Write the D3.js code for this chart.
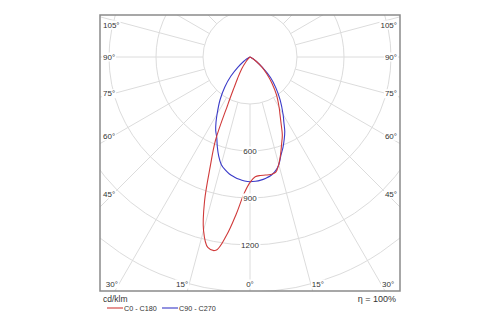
<!DOCTYPE html>
<html><head><meta charset="utf-8">
<script src="https://cdn.jsdelivr.net/npm/d3@7"></script>
<style>body{margin:0;background:#fff}svg{display:block}</style>
</head><body>
<svg id="chart" width="500" height="325"></svg>
<script>
// ---- data ----
const gammaAngles = [0, 2.5, 5, 7.5, 10, 12.5, 15, 17.5, 20, 22.5, 25, 27.5, 30, 35, 40, 45, 50, 55, 60, 65, 70, 75, 80, 85, 90];
const c0Values   = [800, 765, 759, 760, 761, 755, 709, 650, 590, 539, 470, 415, 372, 295, 218, 151, 98, 50, 25, 10, 4, 0, 0, 0, 0];
const c180Values = [800, 873, 1006, 1148, 1253, 1245, 1146, 965, 740, 575, 335, 220, 160, 93, 40, 15, 5, 0, 0, 0, 0, 0, 0, 0, 0];
const c90Values  = [796, 794, 789, 780, 768, 746, 711, 657, 615, 570, 525, 468, 422, 336, 257, 185, 105, 50, 25, 10, 4, 0, 0, 0, 0];
const c270Values = [796, 792, 784, 772, 758, 737, 710, 664, 610, 555, 518, 470, 420, 333, 250, 172, 100, 50, 25, 10, 4, 0, 0, 0, 0];
const ringTicks = [300, 600, 900, 1200, 1500, 1800];
const ringLabels = [600, 900, 1200];
const sideAngleLabels = [105, 90, 75, 60, 45];
const bottomAngleLabels = [30, 15, 0];
const seriesNames = ["C0 - C180", "C90 - C270"];
const unitLabel = "cd/klm";
const effLabel = "\u03b7 = 100%";

// ---- layout ----
const svg = d3.select("#chart");
const frame = {x: 100, y: 15, w: 300, h: 276};
const cx = 250, cy = 57;
const r = d3.scaleLinear().domain([0, 1500]).range([0, 235]);
const redCol = "#d03a3a", blueCol = "#3a3ac8", gridCol = "#dcdcdc", textCol = "#333";
const font = "Liberation Sans, Arial, sans-serif";

svg.append("defs").append("clipPath").attr("id", "clip")
  .append("rect").attr("x", frame.x).attr("y", frame.y).attr("width", frame.w).attr("height", frame.h);

const g = svg.append("g").attr("clip-path", "url(#clip)");
const center = g.append("g").attr("transform", `translate(${cx},${cy})`);

// rings
center.selectAll("circle.ring").data(ringTicks).join("circle")
  .attr("r", d => r(d)).attr("fill", "none").attr("stroke", gridCol).attr("stroke-width", 1);

// radial lines every 15 deg
const spokes = d3.range(0, 360, 15);
center.selectAll("line.spoke").data(spokes).join("line")
  .attr("x1", d => r(300) * Math.sin(d * Math.PI / 180))
  .attr("y1", d => r(300) * Math.cos(d * Math.PI / 180))
  .attr("x2", d => r(2200) * Math.sin(d * Math.PI / 180))
  .attr("y2", d => r(2200) * Math.cos(d * Math.PI / 180))
  .attr("stroke", gridCol).attr("stroke-width", 1);

// label helper with white background
function label(parent, x, y, text, anchor, size) {
  const t = parent.append("text").attr("x", x).attr("y", y).attr("text-anchor", anchor)
    .attr("dominant-baseline", "central").attr("font-family", font).attr("font-size", size)
    .attr("fill", textCol).text(text);
  const b = t.node().getBBox();
  parent.insert("rect", () => t.node()).attr("x", b.x - 1).attr("y", b.y).attr("width", b.width + 2)
    .attr("height", b.height).attr("fill", "#fff");
  return t;
}

const labelsG = svg.append("g");
// ring labels
ringLabels.forEach(v => label(labelsG, cx, cy + r(v), String(v), "middle", 8));

// side angle labels
sideAngleLabels.forEach(a => {
  const rad = a * Math.PI / 180;
  let y = cy + (cx - 113) / Math.tan(rad);
  y = Math.max(y, 25);
  label(labelsG, 103, y, a + "\u00b0", "start", 8);
  label(labelsG, 397, y, a + "\u00b0", "end", 8);
});
// bottom angle labels
bottomAngleLabels.forEach(a => {
  const rad = a * Math.PI / 180;
  const dx = (284 - cy) * Math.tan(rad);
  if (a === 0) { label(labelsG, cx, 284, "0\u00b0", "middle", 8); return; }
  label(labelsG, cx - dx - 1, 284, a + "\u00b0", "end", 8);
  label(labelsG, cx + dx + 1, 284, a + "\u00b0", "start", 8);
});

// curves
function halfPoints(leftVals, rightVals) {
  const pts = [];
  for (let i = gammaAngles.length - 1; i >= 0; i--) pts.push([Math.PI + gammaAngles[i] * Math.PI / 180, r(leftVals[i])]);
  for (let i = 1; i < gammaAngles.length; i++) pts.push([Math.PI - gammaAngles[i] * Math.PI / 180, r(rightVals[i])]);
  return pts;
}
const radial = d3.lineRadial().angle(d => d[0]).radius(d => d[1]).curve(d3.curveCatmullRom.alpha(0.5));
const curves = [
  {pts: halfPoints(c270Values, c90Values), col: blueCol},
  {pts: halfPoints(c180Values, c0Values), col: redCol}
];
center.selectAll("path.curve").data(curves).join("path")
  .attr("d", d => radial(d.pts)).attr("fill", "none").attr("stroke", d => d.col).attr("stroke-width", 1.1);

// frame
svg.append("rect").attr("x", frame.x).attr("y", frame.y).attr("width", frame.w).attr("height", frame.h)
  .attr("fill", "none").attr("stroke", "#8a8a8a").attr("stroke-width", 1.5);

// legend
svg.append("text").attr("x", 103).attr("y", 302).attr("font-family", font).attr("font-size", 8.5)
  .attr("fill", textCol).text(unitLabel);
svg.append("text").attr("x", 396).attr("y", 302).attr("text-anchor", "end").attr("font-family", font)
  .attr("font-size", 9).attr("fill", textCol).text(effLabel);
const legX = [107, 162];
seriesNames.forEach((n, i) => {
  svg.append("line").attr("x1", legX[i]).attr("x2", legX[i] + 16).attr("y1", 308).attr("y2", 308)
    .attr("stroke", i === 0 ? redCol : blueCol).attr("stroke-width", 2).attr("opacity", 0.55);
  svg.append("text").attr("x", legX[i] + 17).attr("y", 310.5).attr("font-family", font).attr("font-size", 7.2)
    .attr("fill", textCol).text(n);
});
</script>
</body></html>
